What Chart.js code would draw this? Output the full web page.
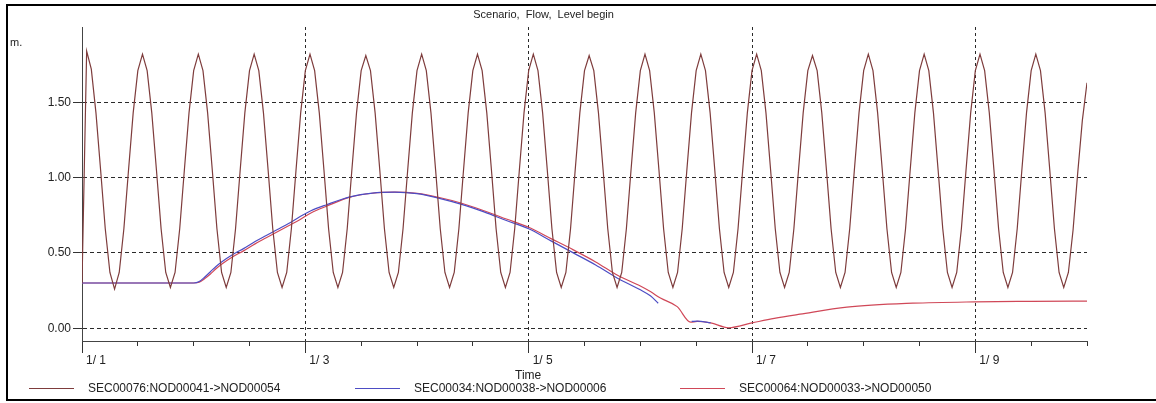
<!DOCTYPE html>
<html>
<head>
<meta charset="utf-8">
<script src="https://cdn.jsdelivr.net/npm/chart.js@4.4.1/dist/chart.umd.min.js"></script>
<style>
html,body{margin:0;padding:0;background:#fff;width:1156px;height:403px;overflow:hidden;}
#wrap{position:relative;width:1156px;height:403px;font-family:"Liberation Sans",Arial,sans-serif;color:#222;}
#c{position:absolute;left:0;top:0;}
#frame{position:absolute;left:6px;top:4px;width:1200px;height:397px;box-sizing:border-box;border:2px solid #000;border-right:none;pointer-events:none;}
.t{position:absolute;font-size:12px;line-height:14px;white-space:nowrap;color:#222;}
.ln{position:absolute;height:0;border-top:1px solid;}
</style>
</head>
<body>
<div id="wrap">
  <canvas id="c" width="1156" height="403"></canvas>
  <div id="frame"></div>
  <div class="t" id="unit" style="left:10px;top:35px;font-size:11px;"></div>
  <div class="t" id="xtitle" style="left:515px;top:368px;"></div>
  <div id="legend"></div>
</div>
<script>
// ---------- data ----------
const chartTitle = 'Scenario,  Flow,  Level begin';
const yUnit = 'm.';
const xTitle = 'Time';
const xTickDays = [0, 2, 4, 6, 8];
const xTickLabels = ['1/ 1', '1/ 3', '1/ 5', '1/ 7', '1/ 9'];
const yTickValues = [0, 0.5, 1.0, 1.5];
const seriesNames = ['SEC00076:NOD00041->NOD00054', 'SEC00034:NOD00038->NOD00006', 'SEC00064:NOD00033->NOD00050'];

// SEC00076 level, hourly from 1/1 00:00 to 1/10 00:00
const sec76Levels = [
  0.30,
  1.84, 1.72, 1.43, 1.05, 0.66, 0.37, 0.26, 0.37, 0.66, 1.05, 1.43, 1.71,
  1.82, 1.71, 1.43, 1.05, 0.66, 0.37, 0.27, 0.37, 0.66, 1.05, 1.43, 1.71,
  1.82, 1.71, 1.43, 1.05, 0.66, 0.37, 0.27, 0.37, 0.66, 1.05, 1.43, 1.71,
  1.82, 1.71, 1.43, 1.05, 0.66, 0.37, 0.27, 0.37, 0.66, 1.05, 1.43, 1.71,
  1.82, 1.71, 1.43, 1.05, 0.66, 0.37, 0.27, 0.37, 0.66, 1.05, 1.43, 1.71,
  1.81, 1.71, 1.43, 1.05, 0.66, 0.37, 0.27, 0.37, 0.66, 1.05, 1.43, 1.71,
  1.82, 1.71, 1.43, 1.05, 0.66, 0.37, 0.27, 0.37, 0.66, 1.05, 1.43, 1.71,
  1.82, 1.71, 1.43, 1.05, 0.66, 0.37, 0.27, 0.37, 0.66, 1.05, 1.43, 1.71,
  1.82, 1.71, 1.43, 1.05, 0.66, 0.37, 0.27, 0.37, 0.66, 1.05, 1.43, 1.71,
  1.81, 1.71, 1.43, 1.05, 0.66, 0.37, 0.27, 0.37, 0.66, 1.05, 1.43, 1.71,
  1.82, 1.71, 1.43, 1.05, 0.66, 0.37, 0.27, 0.37, 0.66, 1.05, 1.43, 1.71,
  1.82, 1.71, 1.43, 1.05, 0.66, 0.37, 0.27, 0.37, 0.66, 1.05, 1.43, 1.71,
  1.82, 1.71, 1.43, 1.05, 0.66, 0.37, 0.27, 0.37, 0.66, 1.05, 1.43, 1.71,
  1.81, 1.71, 1.43, 1.05, 0.66, 0.37, 0.27, 0.37, 0.66, 1.05, 1.43, 1.71,
  1.82, 1.71, 1.43, 1.05, 0.66, 0.37, 0.27, 0.37, 0.66, 1.05, 1.43, 1.71,
  1.82, 1.71, 1.43, 1.05, 0.66, 0.37, 0.27, 0.37, 0.66, 1.05, 1.43, 1.71,
  1.82, 1.71, 1.43, 1.05, 0.66, 0.37, 0.27, 0.37, 0.66, 1.05, 1.43, 1.71,
  1.82, 1.71, 1.43, 1.05, 0.66, 0.37, 0.27, 0.37, 0.65, 1.03, 1.38, 1.63
];

// SEC00034 level (day offset from 1/1 00:00)
const sec34Days = [0, 0.5, 1.0, 1.05, 1.10, 1.15, 1.20, 1.25, 1.35, 1.45, 1.55, 1.65, 1.75, 1.85, 1.95, 2.05,
  2.19, 2.40, 2.60, 2.80, 3.00, 3.20, 3.40, 3.60, 3.80, 4.00, 4.20, 4.40, 4.60, 4.80, 5.00, 5.09, 5.16,
  5.30, 5.46, 5.51, 5.63];
const sec34Levels = [0.30, 0.30, 0.30, 0.31, 0.34, 0.375, 0.41, 0.44, 0.49, 0.53, 0.575, 0.615, 0.655, 0.695, 0.74, 0.78,
  0.82, 0.872, 0.897, 0.903, 0.893, 0.862, 0.822, 0.772, 0.715, 0.66, 0.58, 0.50, 0.42, 0.33, 0.255, 0.215, 0.166,
  null, 0.045, 0.047, 0.035];

// SEC00064 level
const sec64Days = [0, 0.5, 1.0, 1.05, 1.10, 1.15, 1.20, 1.25, 1.35, 1.45, 1.55, 1.65, 1.75, 1.85, 1.95, 2.05,
  2.19, 2.40, 2.60, 2.80, 3.00, 3.20, 3.40, 3.60, 3.80, 4.00, 4.20, 4.40, 4.60, 4.80, 5.00, 5.09,
  5.18, 5.33, 5.45, 5.51, 5.63, 5.79, 6.0, 6.2, 6.43, 6.85, 7.44, 8.0, 8.5, 9.0];
const sec64Levels = [0.30, 0.30, 0.30, 0.305, 0.33, 0.36, 0.395, 0.425, 0.475, 0.515, 0.56, 0.60, 0.64, 0.68, 0.72, 0.765,
  0.81, 0.87, 0.896, 0.903, 0.895, 0.868, 0.83, 0.78, 0.725, 0.67, 0.595, 0.52, 0.44, 0.35, 0.28, 0.243,
  0.20, 0.143, 0.04, 0.045, 0.035, 0.003, 0.035, 0.065, 0.093, 0.14, 0.166, 0.175, 0.178, 0.18];

// ---------- style ----------
const FONT = '"Liberation Sans", Arial, sans-serif';
const colors = ['#7e3c3c', '#4d4dc4', '#d04858'];
const gridColor = '#2a2a2a';

const waveData = sec76Levels.map((v, i) => ({ x: i / 24, y: v }));
const s34Data = sec34Days.map((d, i) => ({ x: d, y: sec34Levels[i] }));
const s64Data = sec64Days.map((d, i) => ({ x: d, y: sec64Levels[i] }));

document.getElementById('unit').textContent = yUnit;
document.getElementById('xtitle').textContent = xTitle;

// legend (HTML)
const legendLineLeft = [29, 355, 680];
const legend = document.getElementById('legend');
seriesNames.forEach((name, i) => {
  const ln = document.createElement('div');
  ln.className = 'ln';
  ln.style.left = legendLineLeft[i] + 'px';
  ln.style.top = '388px';
  ln.style.width = '45px';
  ln.style.borderTopColor = colors[i];
  legend.appendChild(ln);
  const tx = document.createElement('div');
  tx.className = 't';
  tx.style.left = (legendLineLeft[i] + 59) + 'px';
  tx.style.top = '381px';
  tx.textContent = name;
  legend.appendChild(tx);
});

new Chart(document.getElementById('c'), {
  type: 'line',
  data: {
    datasets: [
      { label: seriesNames[0], data: waveData, borderColor: colors[0], borderWidth: 1.2, xAxisID: 'x', yAxisID: 'y', tension: 0 },
      { label: seriesNames[1], data: s34Data, borderColor: colors[1], borderWidth: 1.2, xAxisID: 'x', yAxisID: 'y', cubicInterpolationMode: 'monotone', spanGaps: false },
      { label: seriesNames[2], data: s64Data, borderColor: colors[2], borderWidth: 1.2, xAxisID: 'x', yAxisID: 'y', cubicInterpolationMode: 'monotone' }
    ]
  },
  options: {
    responsive: false,
    animation: false,
    devicePixelRatio: 1,
    events: [],
    layout: { padding: { left: 0, right: 69, top: 0, bottom: 0 } },
    elements: { point: { radius: 0 } },
    plugins: {
      legend: { display: false },
      tooltip: { enabled: false },
      title: {
        display: true, text: chartTitle, color: '#222',
        font: { family: FONT, size: 11, weight: 'normal' },
        padding: { top: 8, bottom: 5.8 }
      }
    },
    scales: {
      x2: {
        type: 'linear', position: 'bottom', weight: -1, min: 0, max: 9,
        afterFit(s) { s.height = 0; },
        ticks: { display: false, stepSize: 0.5 },
        grid: { drawOnChartArea: false, tickLength: 5, tickColor: '#333', tickWidth: 1 },
        border: { display: false }
      },
      x: {
        type: 'linear', position: 'bottom', min: 0, max: 9,
        afterBuildTicks(s) { s.ticks = xTickDays.map(v => ({ value: v })); },
        afterFit(s) { s.height = 62; },
        ticks: {
          align: 'start', labelOffset: 4, padding: 0, maxRotation: 0, autoSkip: false,
          color: '#222', font: { family: FONT, size: 12 },
          callback: (v) => xTickLabels[xTickDays.indexOf(v)]
        },
        grid: {
          color: (ctx) => (ctx.tick && ctx.tick.value === 0) ? 'rgba(0,0,0,0)' : gridColor,
          tickBorderDash: [], tickLength: 12, tickColor: '#333', tickWidth: 1, lineWidth: 1
        },
        border: { display: true, color: '#444', width: 1, dash: [3, 3] }
      },
      y: {
        type: 'linear', position: 'left', min: -0.085, max: 2.0,
        afterBuildTicks(s) { s.ticks = yTickValues.map(v => ({ value: v })); },
        afterFit(s) { s.width = 82; },
        ticks: {
          padding: 2, color: '#222', font: { family: FONT, size: 12 },
          callback: (v) => Number(v).toFixed(2)
        },
        grid: { color: gridColor, tickBorderDash: [], tickLength: 9, tickColor: '#333', lineWidth: 1 },
        border: { display: true, color: '#444', width: 1, dash: [4, 3] }
      }
    }
  }
});
</script>
</body>
</html>
